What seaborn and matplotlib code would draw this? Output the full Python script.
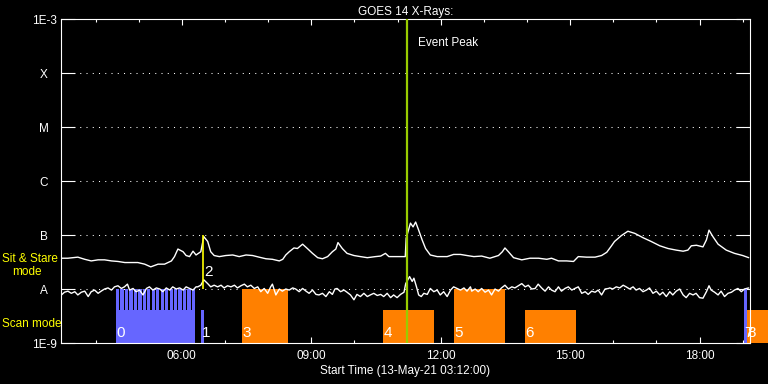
import numpy as np
import pandas as pd
import matplotlib
matplotlib.use("Agg")
import matplotlib.pyplot as plt
from matplotlib.ticker import NullLocator
import seaborn as sns

# GOES 14 X-ray flux, time in hours on 13-May-21, values as log10(W/m^2)
long_t = [3.21, 3.36, 3.59, 3.75, 3.90, 4.06, 4.21, 4.37, 4.52, 4.68,
          4.83, 4.98, 5.14, 5.28, 5.45, 5.60, 5.76, 5.83, 5.91, 6.03,
          6.10, 6.18, 6.26, 6.33, 6.44, 6.51, 6.60, 6.67, 6.75, 6.87,
          7.02, 7.18, 7.33, 7.49, 7.64, 7.79, 7.95, 8.10, 8.26, 8.34,
          8.41, 8.49, 8.60, 8.68, 8.80, 8.91, 9.03, 9.15, 9.26, 9.38,
          9.49, 9.57, 9.62, 9.72, 9.83, 9.99, 10.14, 10.30, 10.49, 10.61,
          10.72, 10.80, 10.99, 11.18, 11.20, 11.30, 11.36, 11.42, 11.49, 11.57,
          11.65, 11.76, 11.92, 12.15, 12.30, 12.46, 12.61, 12.77, 12.95, 13.14,
          13.34, 13.43, 13.49, 13.57, 13.69, 13.88, 14.07, 14.27, 14.46, 14.57,
          14.73, 14.92, 15.08, 15.19, 15.38, 15.58, 15.73, 15.85, 15.96, 16.03,
          16.19, 16.34, 16.50, 16.69, 16.88, 17.08, 17.27, 17.46, 17.62, 17.73,
          17.81, 17.93, 18.08, 18.16, 18.22, 18.31, 18.43, 18.62, 18.81, 19.00,
          19.14]
long_log = [-7.43, -7.43, -7.41, -7.45, -7.48, -7.46, -7.46, -7.48, -7.49, -7.51,
            -7.51, -7.51, -7.54, -7.59, -7.54, -7.54, -7.48, -7.40, -7.26, -7.31,
            -7.38, -7.40, -7.30, -7.37, -7.31, -7.03, -7.12, -7.31, -7.38, -7.40,
            -7.38, -7.37, -7.40, -7.37, -7.38, -7.41, -7.44, -7.45, -7.48, -7.45,
            -7.37, -7.31, -7.24, -7.25, -7.17, -7.25, -7.34, -7.42, -7.44, -7.40,
            -7.31, -7.26, -7.14, -7.25, -7.34, -7.38, -7.40, -7.42, -7.40, -7.39,
            -7.34, -7.40, -7.40, -7.40, -7.06, -6.78, -6.85, -6.76, -6.91, -7.09,
            -7.25, -7.37, -7.40, -7.40, -7.36, -7.36, -7.38, -7.40, -7.39, -7.43,
            -7.38, -7.31, -7.24, -7.31, -7.42, -7.46, -7.43, -7.43, -7.45, -7.43,
            -7.48, -7.48, -7.49, -7.40, -7.41, -7.41, -7.38, -7.32, -7.20, -7.12,
            -7.01, -6.93, -6.97, -7.05, -7.12, -7.20, -7.25, -7.28, -7.30, -7.28,
            -7.20, -7.19, -7.22, -7.09, -6.91, -7.03, -7.17, -7.28, -7.34, -7.38,
            -7.42]

short_t = [3.21, 3.28, 3.36, 3.44, 3.52, 3.59, 3.67, 3.75, 3.83, 3.90,
           3.98, 4.06, 4.13, 4.21, 4.29, 4.37, 4.44, 4.52, 4.60, 4.67,
           4.74, 4.79, 4.87, 4.94, 5.02, 5.10, 5.18, 5.25, 5.33, 5.41,
           5.49, 5.56, 5.64, 5.72, 5.79, 5.87, 5.95, 6.03, 6.10, 6.18,
           6.26, 6.33,
           6.37, 6.44, 6.51, 6.60, 6.67, 6.75, 6.83, 6.91, 6.98, 7.06,
           7.14, 7.22, 7.29, 7.37, 7.45, 7.52, 7.60, 7.68, 7.76, 7.83,
           7.91, 7.99, 8.06, 8.10, 8.18, 8.26, 8.33, 8.41, 8.49, 8.57,
           8.64, 8.72, 8.80, 8.88, 8.95, 9.03, 9.11, 9.18, 9.26, 9.34,
           9.42, 9.49, 9.55,
           9.60, 9.68, 9.76, 9.83, 9.91, 9.99, 10.06, 10.14, 10.22, 10.30,
           10.37, 10.45, 10.53, 10.61, 10.68, 10.76, 10.84, 10.91, 10.99, 11.07,
           11.15, 11.19, 11.24, 11.28, 11.34, 11.38, 11.44, 11.49, 11.55, 11.61,
           11.69, 11.76, 11.84, 11.92, 11.99, 12.07, 12.15, 12.23, 12.30, 12.38,
           12.46, 12.54, 12.61, 12.69,
           12.72, 12.80, 12.87, 12.95, 13.03, 13.11, 13.18, 13.26, 13.34, 13.41,
           13.49, 13.57, 13.65, 13.72, 13.80, 13.88, 13.96, 14.03, 14.11, 14.19,
           14.26, 14.34, 14.42, 14.50, 14.57, 14.65, 14.73, 14.80, 14.88, 14.96,
           15.04, 15.11, 15.19, 15.27, 15.35, 15.42, 15.50, 15.58, 15.65, 15.73,
           15.81, 15.89,
           15.92, 15.99, 16.07, 16.15, 16.23, 16.30, 16.38, 16.46, 16.53, 16.61,
           16.69, 16.77, 16.84, 16.92, 17.00, 17.08, 17.15, 17.23, 17.31, 17.38,
           17.46, 17.54, 17.62, 17.69, 17.77, 17.85, 17.92, 18.00, 18.08, 18.16,
           18.22, 18.27, 18.35, 18.43, 18.50, 18.58, 18.66, 18.74, 18.81, 18.89,
           18.97, 19.04, 19.14]
short_log = [-8.11, -8.06, -8.04, -8.08, -8.05, -8.11, -8.06, -8.04, -8.14, -8.05,
             -8.02, -8.08, -8.04, -8.00, -7.98, -8.02, -7.96, -7.94, -7.99, -7.96,
             -7.91, -8.02, -7.99, -8.05, -8.02, -8.11, -7.99, -7.96, -8.02, -7.98,
             -8.00, -8.05, -7.98, -8.02, -7.96, -8.00, -7.98, -8.02, -7.96, -7.99,
             -8.02, -7.96,
             -7.96, -7.93, -7.83, -7.90, -7.96, -7.93, -7.96, -7.93, -7.98, -7.94,
             -7.96, -7.93, -7.98, -7.94, -7.91, -7.96, -7.93, -7.99, -7.96, -8.05,
             -7.99, -8.08, -7.96, -7.91, -8.11, -8.00, -8.04, -8.00, -8.02, -7.98,
             -8.00, -8.05, -7.99, -8.04, -8.08, -8.02, -8.10, -8.11, -8.08, -8.14,
             -8.05, -8.10, -8.00,
             -7.99, -8.05, -8.02, -8.06, -8.11, -8.20, -8.10, -8.14, -8.08, -8.14,
             -8.11, -8.08, -8.12, -8.10, -8.14, -8.08, -8.16, -8.11, -8.16, -8.10,
             -8.06, -7.90, -7.83, -7.77, -7.86, -7.80, -7.96, -8.11, -8.14, -8.08,
             -8.10, -7.99, -8.05, -8.02, -8.11, -8.05, -8.14, -8.02, -7.96, -7.99,
             -8.02, -7.98, -8.04, -7.96,
             -8.04, -8.00, -8.05, -7.99, -8.06, -8.02, -8.11, -8.00, -8.04, -7.98,
             -7.93, -8.00, -7.96, -7.98, -7.94, -7.90, -7.96, -7.93, -8.00, -7.99,
             -7.91, -7.98, -8.04, -7.96, -8.02, -8.05, -7.96, -8.04, -7.99, -7.96,
             -8.02, -7.99, -7.96, -8.08, -8.05, -8.10, -8.04, -8.06, -8.02, -8.11,
             -8.00, -7.99,
             -7.98, -8.00, -7.96, -7.98, -7.93, -7.96, -8.00, -7.96, -8.02, -7.99,
             -8.05, -8.02, -7.98, -8.08, -8.04, -8.11, -8.06, -8.14, -8.05, -8.11,
             -8.04, -8.00, -8.11, -8.16, -8.08, -8.11, -8.08, -8.16, -8.17, -8.05,
             -7.94, -8.02, -8.06, -8.11, -8.04, -8.14, -8.08, -8.06, -8.02, -7.99,
             -8.05, -8.00, -7.98]

# observing blocks (scan mode), start/end hour, top of bar, mode colour
scan_start = [4.47, 6.44, 7.39, 10.66, 12.30, 13.95, 19.02, 19.10]
scan_end = [6.31, 6.51, 8.46, 11.84, 13.49, 15.13, 19.10, 20.00]
scan_top = [4.1e-9, 4.1e-9, 1e-8, 4.1e-9, 1e-8, 4.1e-9, 1e-8, 4.1e-9]
scan_kind = ["blue", "blue", "orange", "orange", "orange", "orange", "blue", "orange"]
scan_label = ["0", "1", "3", "4", "5", "6", "7", "8"]

# short repeated scans inside block 0
stripe_start = [4.474, 4.578, 4.681, 4.785, 4.888, 4.992, 5.095, 5.199, 5.302,
                5.406, 5.509, 5.613, 5.716, 5.820, 5.923, 6.027, 6.130, 6.234]
stripe_width = 0.074

# sit & stare pointings
stare_t = [6.50]
stare_label = ["2"]

event_peak = 11.23

level_vals = [1e-9, 1e-8, 1e-7, 1e-6, 1e-5, 1e-4, 1e-3]
level_names = ["1E-9", "A", "B", "C", "M", "X", "1E-3"]
hour_ticks = [6, 9, 12, 15, 18]
hour_labels = ["06:00", "09:00", "12:00", "15:00", "18:00"]

colors = {"blue": "#6666ff", "orange": "#ff8000"}

sns.set_theme(style="dark", rc={"axes.facecolor": "black", "figure.facecolor": "black",
                                "axes.edgecolor": "white", "text.color": "white",
                                "xtick.color": "white", "ytick.color": "white",
                                "axes.labelcolor": "white"})
plt.rcParams["font.family"] = ["Liberation Sans", "DejaVu Sans"]

long_df = pd.DataFrame({"time": long_t, "flux": 10 ** np.array(long_log)})
short_df = pd.DataFrame({"time": short_t, "flux": 10 ** np.array(short_log)})

fig = plt.figure(figsize=(7.68, 3.84), dpi=100)
ax = fig.add_axes([61 / 768, 41 / 384, 689 / 768, 324 / 384])
ax.set_yscale("log")
ax.set_xlim(3.2, 19.17)
ax.set_ylim(1e-9, 1e-3)

# dotted class levels
for v in level_vals[1:-1]:
    ax.axhline(v, color="white", lw=0.75, ls=(0, (1, 5)), zorder=1)

# scan bars
for s, e, top, k in zip(scan_start, scan_end, scan_top, scan_kind):
    ax.bar(s, top - 1e-9, bottom=1e-9, width=e - s, align="edge",
           color=colors[k], lw=0, zorder=2, clip_on=False)
ax.bar(stripe_start, [1e-8 - 1e-9] * len(stripe_start), bottom=1e-9,
       width=stripe_width, align="edge", color=colors["blue"], lw=0, zorder=2)

sns.lineplot(data=long_df, x="time", y="flux", ax=ax, color="white", lw=1.0, zorder=3)
sns.lineplot(data=short_df, x="time", y="flux", ax=ax, color="white", lw=1.0, zorder=3)

for s, lab in zip(scan_start, scan_label):
    ax.text(s + 0.02, 10 ** -8.81, lab, color="white", fontsize=11,
            ha="left", va="center", zorder=4, clip_on=False)

ax.vlines(stare_t, 1e-8, 1e-7, color="yellow", lw=1.2, zorder=4)
for t, lab in zip(stare_t, stare_label):
    ax.text(t + 0.02, 10 ** -7.69, lab, color="white", fontsize=11,
            ha="left", va="center", zorder=4)

ax.axvline(event_peak, color="#99cc00", lw=1.6, zorder=5)
ax.text(event_peak + 0.24, 10 ** -3.44, "Event Peak", color="white",
        fontsize=8.5, ha="left", va="center")

# axes styling
for sp in ax.spines.values():
    sp.set_color("white")
    sp.set_linewidth(0.8)
ax.set_yticks(level_vals)
ax.set_yticklabels(level_names)
ax.yaxis.set_minor_locator(NullLocator())
ax.tick_params(axis="y", which="major", direction="in", length=10, width=0.8,
               left=True, right=True, pad=12.2, labelsize=8.5, colors="white")
for lab in ax.get_yticklabels():
    lab.set_horizontalalignment("center")

ax.set_xticks(hour_ticks)
ax.set_xticklabels(hour_labels)
ax.set_xticks([h for h in range(4, 20) if h not in hour_ticks], minor=True)
ax.tick_params(axis="x", which="major", direction="in", length=4.3, width=0.8,
               top=True, bottom=True, pad=5, labelsize=8.5, colors="white")
ax.tick_params(axis="x", which="minor", direction="in", length=2.5, width=0.8,
               top=True, bottom=True, colors="white")
ax.grid(False)

ax.set_xlabel("Start Time (13-May-21 03:12:00)", fontsize=8.5, labelpad=2)
ax.set_ylabel("")
ax.set_title("GOES 14 X-Rays:", fontsize=8.5, color="white", pad=3)

fig.text(2 / 768, 1 - 259 / 384, "Sit & Stare", color="yellow", fontsize=8.5,
         ha="left", va="center")
fig.text(12 / 768, 1 - 272 / 384, "mode", color="yellow", fontsize=8.5,
         ha="left", va="center")
fig.text(2 / 768, 1 - 324 / 384, "Scan mode", color="yellow", fontsize=8.5,
         ha="left", va="center")

fig.savefig("out.png", dpi=100, facecolor="black")
